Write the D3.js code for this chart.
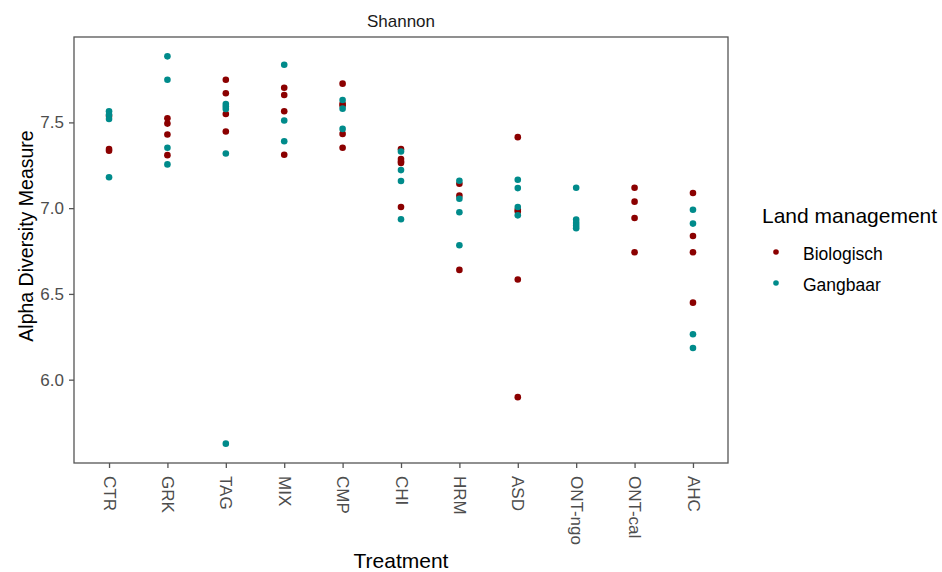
<!DOCTYPE html>
<html>
<head>
<meta charset="utf-8">
<script src="https://cdn.jsdelivr.net/npm/d3@7"></script>
<style>
  html, body { margin: 0; padding: 0; background: #ffffff; }
  svg { display: block; font-family: "Liberation Sans", Arial, sans-serif; }
</style>
</head>
<body>
<svg id="chart" width="942" height="572"></svg>
<script>
// ---- data ----
const treatments = ["CTR", "GRK", "TAG", "MIX", "CMP", "CHI", "HRM", "ASD", "ONT-ngo", "ONT-cal", "AHC"];
const groups = ["Biologisch", "Gangbaar"];
const groupColors = ["#8B0000", "#008B8B"];
const yTicks = [6.0, 6.5, 7.0, 7.5];
const facetTitle = "Shannon";
const xTitle = "Treatment";
const yTitle = "Alpha Diversity Measure";
const legendTitle = "Land management";

const biologisch = [
  ["CTR", [7.538, 7.345, 7.335]],
  ["GRK", [7.524, 7.493, 7.429, 7.309]],
  ["TAG", [7.749, 7.670, 7.549, 7.447]],
  ["MIX", [7.702, 7.660, 7.565, 7.311]],
  ["CMP", [7.726, 7.608, 7.598, 7.433, 7.352]],
  ["CHI", [7.344, 7.286, 7.272, 7.263, 7.007]],
  ["HRM", [7.142, 7.073, 6.640]],
  ["ASD", [7.414, 6.991, 6.980, 6.584, 5.898]],
  ["ONT-ngo", []],
  ["ONT-cal", [7.119, 7.038, 6.943, 6.743]],
  ["AHC", [7.088, 6.838, 6.743, 6.449]]
];
const gangbaar = [
  ["CTR", [7.565, 7.545, 7.520, 7.180]],
  ["GRK", [7.885, 7.749, 7.352, 7.255]],
  ["TAG", [7.607, 7.592, 7.578, 7.319, 5.627]],
  ["MIX", [7.836, 7.511, 7.390]],
  ["CMP", [7.631, 7.580, 7.462]],
  ["CHI", [7.330, 7.222, 7.158, 6.935]],
  ["HRM", [7.160, 7.055, 6.976, 6.784]],
  ["ASD", [7.166, 7.117, 7.007, 6.958]],
  ["ONT-ngo", [7.119, 6.933, 6.914, 6.898, 6.883]],
  ["ONT-cal", []],
  ["AHC", [6.991, 6.910, 6.265, 6.185]]
];

// ---- build points ----
const points = [];
[biologisch, gangbaar].forEach((series, gi) => {
  series.forEach(([t, vals]) => vals.forEach(v => points.push({t, v, g: groups[gi]})));
});

// ---- layout ----
const svg = d3.select("#chart");
const P = {left: 74, right: 728, top: 37, bottom: 463};

const x = d3.scalePoint().domain(treatments).range([P.left, P.right]).padding(0.6);
const ext = d3.extent(points, d => d.v);
const pad = (ext[1] - ext[0]) * 0.05;
const y = d3.scaleLinear().domain([ext[0] - pad, ext[1] + pad]).range([P.bottom, P.top]);
const color = d3.scaleOrdinal().domain(groups).range(groupColors);

// panel background
svg.append("rect").attr("x", P.left).attr("y", P.top)
  .attr("width", P.right - P.left).attr("height", P.bottom - P.top)
  .attr("fill", "#ffffff");

// points
svg.append("g").selectAll("circle").data(points).join("circle")
  .attr("cx", d => x(d.t))
  .attr("cy", d => y(d.v))
  .attr("r", 3.3)
  .attr("fill", d => color(d.g));

// panel border
svg.append("rect").attr("x", P.left).attr("y", P.top)
  .attr("width", P.right - P.left).attr("height", P.bottom - P.top)
  .attr("fill", "none").attr("stroke", "#555555").attr("stroke-width", 1.3);

// y axis
const yAxis = svg.append("g").attr("transform", `translate(${P.left},0)`)
  .call(d3.axisLeft(y).tickValues(yTicks).tickFormat(d3.format(".1f")).tickSize(5).tickPadding(5));
yAxis.select(".domain").remove();
yAxis.selectAll(".tick line").attr("stroke", "#555555").attr("stroke-width", 1.3);
yAxis.selectAll(".tick text").attr("fill", "#4d4d4d").style("font-size", "17px")
  .style("font-family", "'Liberation Sans', Arial, sans-serif");

// x axis
const xAxis = svg.append("g").attr("transform", `translate(0,${P.bottom})`)
  .call(d3.axisBottom(x).tickSize(5).tickPadding(5));
xAxis.select(".domain").remove();
xAxis.selectAll(".tick line").attr("stroke", "#555555").attr("stroke-width", 1.3);
xAxis.selectAll(".tick text")
  .attr("fill", "#4d4d4d").style("font-size", "17px")
  .style("font-family", "'Liberation Sans', Arial, sans-serif")
  .attr("text-anchor", "start")
  .attr("x", 0).attr("y", 0).attr("dy", "0.35em")
  .attr("transform", "translate(0,13) rotate(90)");

// facet strip title
svg.append("text").attr("x", (P.left + P.right) / 2).attr("y", 26.5)
  .attr("text-anchor", "middle").attr("fill", "#1a1a1a").style("font-size", "17px")
  .text(facetTitle);

// axis titles
svg.append("text").attr("x", (P.left + P.right) / 2).attr("y", 568)
  .attr("text-anchor", "middle").attr("fill", "#000").style("font-size", "21px")
  .text(xTitle);
svg.append("text").attr("transform", `translate(33,236) rotate(-90)`)
  .attr("text-anchor", "middle").attr("fill", "#000").style("font-size", "19.5px")
  .text(yTitle);

// legend
const lg = svg.append("g").attr("transform", "translate(762,0)");
lg.append("text").attr("x", 0).attr("y", 223).attr("fill", "#000").style("font-size", "21px")
  .text(legendTitle);
const items = lg.selectAll("g.item").data(groups).join("g").attr("class", "item")
  .attr("transform", (d, i) => `translate(0,${252 + i * 31})`);
items.append("circle").attr("cx", 14).attr("cy", 0).attr("r", 2.8).attr("fill", d => color(d));
items.append("text").attr("x", 41).attr("y", 7.5).attr("fill", "#000").style("font-size", "17.5px")
  .text(d => d);
</script>
</body>
</html>
